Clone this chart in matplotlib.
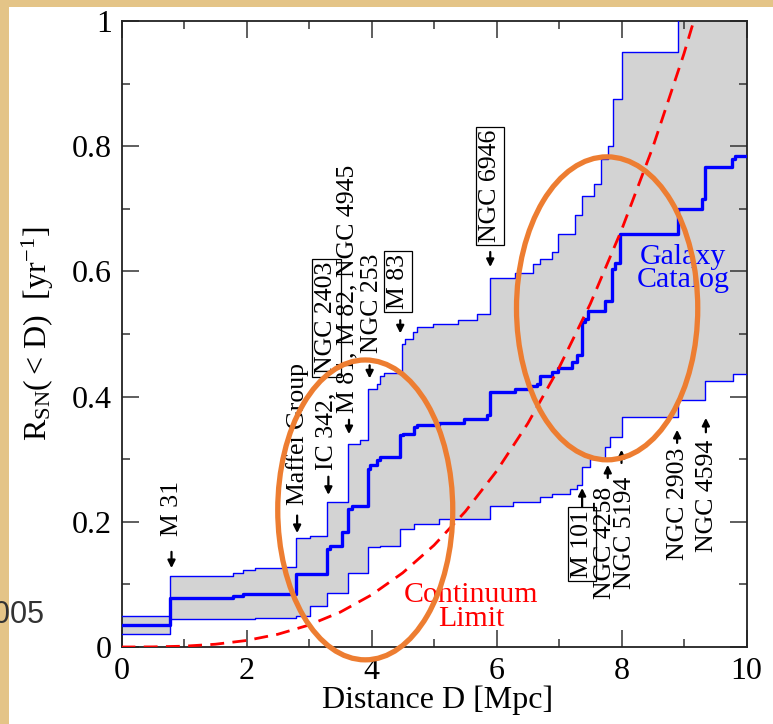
import numpy as np
import matplotlib
matplotlib.use("Agg")
import matplotlib.pyplot as plt
from matplotlib.patches import Ellipse, Rectangle

plt.rcParams['font.family'] = ['Liberation Serif', 'DejaVu Serif']
plt.rcParams['mathtext.fontset'] = 'custom'
plt.rcParams['mathtext.rm'] = 'Liberation Serif'
plt.rcParams['mathtext.it'] = 'Liberation Serif:italic'

# cumulative supernova rate, galaxy catalog: upper / central / lower steps
upper_x = [0, 0.77, 1.78, 1.945, 2.14, 2.585, 2.79, 3.02, 3.285, 3.63,
           3.81, 3.94, 4.09, 4.14, 4.2, 4.48, 4.53, 4.665, 4.725, 4.98,
           5.385, 5.68, 5.89, 6.3, 6.58, 6.69, 6.886, 6.99, 7.26, 7.36,
           7.565, 7.67, 7.79, 7.87, 8.0, 8.905]
upper_y = [0.05, 0.113, 0.118, 0.123, 0.126, 0.128, 0.174, 0.177, 0.231, 0.324,
           0.33, 0.412, 0.42, 0.433, 0.438, 0.484, 0.492, 0.503, 0.511, 0.516,
           0.522, 0.532, 0.589, 0.597, 0.612, 0.62, 0.631, 0.66, 0.69, 0.72,
           0.74, 0.78, 0.80, 0.875, 0.95, 1.1]

central_x = [0, 0.77, 1.78, 1.945, 2.79, 3.285, 3.335, 3.52, 3.63, 3.68,
             3.94, 3.975, 4.09, 4.14, 4.45, 4.50, 4.675, 4.725, 5.08, 5.486,
             5.84, 5.89, 6.3, 6.53, 6.64, 6.69, 6.886, 6.987, 7.2, 7.28,
             7.36, 7.41, 7.47, 7.74, 7.84, 7.9, 7.97, 8.905, 9.28, 9.34,
             9.76, 9.82]
central_y = [0.035, 0.078, 0.082, 0.085, 0.117, 0.157, 0.162, 0.183, 0.22, 0.226,
             0.284, 0.29, 0.298, 0.303, 0.338, 0.34, 0.351, 0.355, 0.358, 0.364,
             0.37, 0.407, 0.412, 0.417, 0.42, 0.433, 0.439, 0.445, 0.455, 0.466,
             0.519, 0.524, 0.537, 0.553, 0.604, 0.614, 0.66, 0.70, 0.716, 0.766,
             0.78, 0.785]

lower_x = [0, 0.77, 2.14, 2.79, 3.02, 3.285, 3.63, 3.94, 4.14, 4.45,
           4.675, 5.08, 5.89, 6.27, 6.69, 6.886, 7.18, 7.28, 7.36, 7.49,
           7.74, 7.82, 8.0, 8.905, 9.34, 9.79]
lower_y = [0.021, 0.044, 0.046, 0.05, 0.066, 0.087, 0.119, 0.159, 0.162, 0.188,
           0.196, 0.204, 0.226, 0.231, 0.239, 0.244, 0.252, 0.258, 0.287, 0.30,
           0.32, 0.335, 0.367, 0.394, 0.425, 0.436]

# continuum limit curve
cont_x = [0, 0.5, 1, 1.5, 2, 2.5, 3, 3.5, 4, 4.5,
          5, 5.5, 6, 6.5, 7, 7.5, 8, 8.5, 9, 9.5]
cont_y = [0, 0.0002, 0.0013, 0.0044, 0.0104, 0.0203, 0.0351, 0.0557, 0.0832, 0.1185,
          0.1625, 0.2163, 0.2808, 0.357, 0.446, 0.548, 0.666, 0.798, 0.948, 1.115]

# galaxies marked with a downward arrow (above the band)
down_names = ['M 31', 'Maffei Group', 'IC 342,', 'NGC 2403', 'M 81, M 82, NGC 4945',
              'NGC 253', 'M 83', 'NGC 6946']
down_text_x = [0.80, 2.81, 3.28, 3.28, 3.62, 4.0, 4.42, 5.9]
down_text_y = [0.177, 0.227, 0.283, 0.436, 0.374, 0.47, 0.540, 0.647]
down_boxed = [False, False, False, True, False, False, True, True]
down_arrow_x = [0.80, 2.81, 3.31, 3.64, 3.97, 4.46, 5.9]
down_arrow_from = [0.152, 0.21, 0.272, 0.363, 0.45, 0.522, 0.631]
down_arrow_to = [0.126, 0.182, 0.243, 0.340, 0.429, 0.501, 0.607]

# galaxies marked with an upward arrow (below the band)
up_names = ['M 101', 'NGC 4258', 'NGC 5194', 'NGC 2903', 'NGC 4594']
up_text_x = [7.37, 7.74, 8.06, 8.9, 9.37]
up_text_y = [0.219, 0.256, 0.272, 0.318, 0.331]
up_boxed = [True, False, False, False, False]
up_arrow_x = [7.37, 7.78, 8.0, 8.89, 9.35]
up_arrow_from = [0.224, 0.27, 0.294, 0.326, 0.343]
up_arrow_to = [0.254, 0.291, 0.315, 0.347, 0.366]


def step_values(xs, ys, grid):
    idx = np.searchsorted(xs, grid, side='right') - 1
    return np.asarray(ys)[idx]


fig = plt.figure(figsize=(7.73, 7.24), dpi=100)
fig.patch.set_facecolor('#e4c487')
fig.add_artist(Rectangle((9 / 773, 0), 1, 1 - 7 / 724, transform=fig.transFigure,
                         facecolor='white', edgecolor='none', zorder=-10))

ax = fig.add_axes([121.5 / 773, 77 / 724, 625 / 773, 626 / 724])

grid = np.union1d(np.union1d(upper_x, lower_x), [10])
ax.fill_between(grid, step_values(lower_x, lower_y, grid),
                step_values(upper_x, upper_y, grid),
                step='post', color='#d3d3d3', lw=0, zorder=1)

for xs, ys, lw in [(upper_x, upper_y, 1.0), (lower_x, lower_y, 1.0),
                   (central_x, central_y, 2.4)]:
    ax.step(np.append(xs, 10), np.append(ys, ys[-1]), where='post',
            color='#0000ff', lw=lw, zorder=3)

ax.plot(cont_x, cont_y, color='#ff0000', lw=2.0, dashes=(5, 3), zorder=4)

ann_kw = dict(rotation=90, fontsize=18.5, ha='center', zorder=6)
box = dict(boxstyle='square,pad=0.12', fc='white', ec='black', lw=0.9)

for name, tx, ty, boxed in zip(down_names, down_text_x, down_text_y, down_boxed):
    ax.text(tx, ty, name, va='bottom', bbox=box if boxed else None, **ann_kw)
for name, tx, ty, boxed in zip(up_names, up_text_x, up_text_y, up_boxed):
    ax.text(tx, ty, name, va='top', bbox=box if boxed else None, **ann_kw)

arrow = dict(arrowstyle='-|>', color='black', lw=1.6, mutation_scale=11,
             shrinkA=0, shrinkB=0)
for ax_x, y0, y1 in zip(down_arrow_x + up_arrow_x, down_arrow_from + up_arrow_from,
                        down_arrow_to + up_arrow_to):
    ax.annotate('', xy=(ax_x, y1), xytext=(ax_x, y0), arrowprops=arrow, zorder=6)

ax.text(8.99, 0.605, 'Galaxy\nCatalog', color='#0000ff', fontsize=21.5,
        ha='center', va='center', linespacing=0.85, zorder=6)
ax.text(5.59, 0.064, 'Continuum\nLimit', color='#ff0000', fontsize=21.5,
        ha='center', va='center', linespacing=0.9, zorder=6)

for center, w, h in [((3.9, 0.219), 2.8, 0.479), ((7.77, 0.541), 2.9, 0.484)]:
    ax.add_patch(Ellipse(center, w, h, fill=False, ec='#ed7d31', lw=3.8,
                         clip_on=False, zorder=10))

ax.set_xlim(0, 10)
ax.set_ylim(0, 1)
ax.set_xticks([0, 2, 4, 6, 8, 10])
ax.set_xticks(np.arange(1, 10, 2), minor=True)
ax.set_yticks([0, 0.2, 0.4, 0.6, 0.8, 1.0])
ax.set_yticklabels(['0', '0.2', '0.4', '0.6', '0.8', '1'])
ax.set_yticks(np.arange(0.1, 1.0, 0.2), minor=True)
ax.tick_params(which='both', direction='in', top=True, right=True,
               labelsize=23, width=1.1, color='#333333')
ax.tick_params(which='major', length=12, pad=7)
ax.tick_params(which='minor', length=6)
for sp in ax.spines.values():
    sp.set_linewidth(1.3)
    sp.set_color('#222222')

ax.set_xlabel('Distance D [Mpc]', fontsize=23)
ax.xaxis.set_label_coords(0.506, -0.062)
ax.xaxis.label.set_va('top')
ax.set_ylabel(r'$\mathrm{R_{SN}(<\,D)\ \ [yr^{-1}]}$', fontsize=23)
ax.yaxis.set_label_coords(-0.105, 0.5)

fig.text(45 / 773, 1 - 615 / 724, '2005', family='Liberation Sans', fontsize=22,
         color='#333333', ha='right', va='center')

fig.savefig('out.png', dpi=100, facecolor=fig.get_facecolor())
